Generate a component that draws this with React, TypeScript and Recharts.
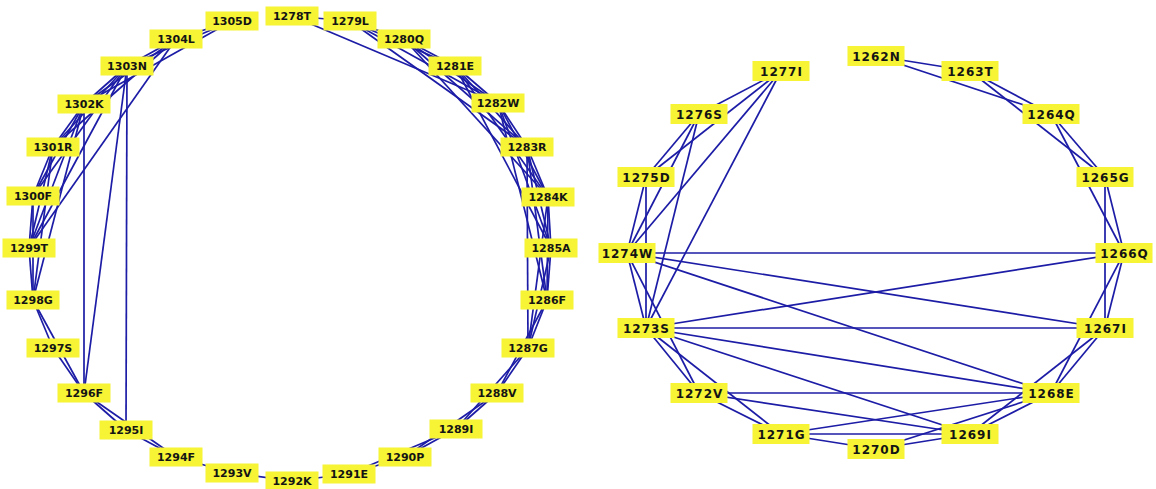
import { ScatterChart, Scatter, XAxis, YAxis } from "recharts";

// node positions (pixel-like layout units, y grows downward)
const leftNames = ["1278T", "1279L", "1280Q", "1281E", "1282W", "1283R", "1284K", "1285A", "1286F", "1287G", "1288V", "1289I", "1290P", "1291E", "1292K", "1293V", "1294F", "1295I", "1296F", "1297S", "1298G", "1299T", "1300F", "1301R", "1302K", "1303N", "1304L", "1305D"];
const leftX = [292, 350, 404, 455, 498, 527, 548, 551, 547, 528, 497, 456, 405, 349, 292, 232, 176, 126, 84, 53, 33, 29, 33, 53, 84, 127, 176, 232];
const leftY = [16, 21, 39, 66, 103, 147, 197, 248, 300, 348, 393, 429, 457, 474, 481, 473, 457, 430, 393, 348, 300, 248, 196, 147, 104, 66, 39, 21];

const rightNames = ["1262N", "1263T", "1264Q", "1265G", "1266Q", "1267I", "1268E", "1269I", "1270D", "1271G", "1272V", "1273S", "1274W", "1275D", "1276S", "1277I"];
const rightX = [876, 970, 1051, 1105, 1124, 1105, 1051, 970, 876, 781, 699, 646, 627, 646, 699, 781];
const rightY = [56, 71, 114, 177, 253, 328, 393, 434, 449, 434, 393, 328, 253, 177, 114, 71];

const leftEdges = [
  "1278T-1279L", "1278T-1282W", "1279L-1280Q", "1279L-1281E", "1279L-1282W", "1279L-1283R",
  "1280Q-1281E", "1280Q-1282W", "1280Q-1283R", "1280Q-1284K",
  "1281E-1282W", "1281E-1283R", "1281E-1284K", "1281E-1285A",
  "1282W-1283R", "1282W-1284K", "1282W-1285A", "1282W-1286F",
  "1283R-1284K", "1283R-1285A", "1283R-1286F", "1283R-1287G",
  "1284K-1285A", "1284K-1286F", "1284K-1287G", "1285A-1286F", "1285A-1287G",
  "1286F-1287G", "1286F-1288V", "1287G-1288V", "1287G-1289I",
  "1288V-1289I", "1288V-1290P", "1289I-1290P", "1289I-1291E", "1290P-1291E",
  "1291E-1292K", "1292K-1293V", "1293V-1294F", "1294F-1295I", "1294F-1296F", "1295I-1296F",
  "1296F-1297S", "1296F-1298G", "1297S-1298G", "1298G-1299T", "1298G-1300F", "1298G-1301R", "1298G-1302K",
  "1299T-1300F", "1299T-1301R", "1299T-1302K", "1300F-1301R", "1300F-1302K", "1300F-1303N",
  "1301R-1302K", "1301R-1303N", "1301R-1304L", "1302K-1303N", "1302K-1304L", "1302K-1305D",
  "1303N-1304L", "1303N-1305D", "1304L-1305D",
  "1302K-1296F", "1303N-1295I", "1303N-1296F", "1303N-1299T", "1304L-1299T",
];

const rightEdges = [
  "1262N-1263T", "1262N-1264Q", "1263T-1264Q", "1263T-1265G", "1264Q-1265G", "1264Q-1266Q",
  "1265G-1266Q", "1265G-1267I", "1266Q-1267I", "1266Q-1268E", "1267I-1268E", "1267I-1269I",
  "1268E-1269I", "1268E-1270D", "1268E-1271G", "1268E-1272V", "1268E-1273S", "1268E-1274W",
  "1269I-1270D", "1269I-1271G", "1269I-1272V", "1269I-1273S", "1270D-1271G",
  "1271G-1272V", "1271G-1273S", "1272V-1273S", "1272V-1274W",
  "1273S-1274W", "1273S-1275D", "1273S-1276S", "1273S-1277I", "1273S-1266Q", "1273S-1267I",
  "1274W-1266Q", "1274W-1267I", "1274W-1275D", "1274W-1276S", "1274W-1277I",
  "1275D-1276S", "1275D-1277I", "1276S-1277I",
];

const W = 1156;
const H = 489;
const EDGE = "#1c1ca6";
const BOX = "#f6f434";

type Node = { name: string; x: number; y: number; side: "left" | "right" };

const nodes: Node[] = [
  ...leftNames.map((name, i) => ({ name, x: leftX[i], y: leftY[i], side: "left" as const })),
  ...rightNames.map((name, i) => ({ name, x: rightX[i], y: rightY[i], side: "right" as const })),
];
const byName = new Map(nodes.map((n) => [n.name, n]));
const edges = [...leftEdges, ...rightEdges].map((e) => {
  const [a, b] = e.split("-");
  return [byName.get(a)!, byName.get(b)!];
});

const NodeBox = (props: any) => {
  const { cx, cy, payload } = props;
  const right = payload.side === "right";
  const w = right ? 57 : 53;
  const h = right ? 20 : 19;
  return (
    <g>
      <rect x={cx - w / 2} y={cy - h / 2} width={w} height={h} fill={BOX} />
      <text
        x={right ? cx + 0.5 : cx}
        y={cy + (right ? 4.5 : 4)}
        textAnchor="middle"
        fontFamily="DejaVu Sans, sans-serif"
        fontWeight="bold"
        fontSize={right ? 12 : 11}
        letterSpacing={right ? 1 : 0}
        fill="#141414"
      >
        {payload.name}
      </text>
    </g>
  );
};

export default function App() {
  return (
    <div style={{ position: "absolute", left: 0, top: 0, background: "#fff" }}>
      <ScatterChart width={W} height={H} margin={{ top: 0, right: 0, bottom: 0, left: 0 }}>
        <XAxis type="number" dataKey="x" domain={[0, W]} hide />
        <YAxis type="number" dataKey="y" domain={[0, H]} reversed hide />
        {edges.map(([a, b], i) => (
          <Scatter
            key={`e-${i}`}
            data={[a, b]}
            line={{ stroke: EDGE, strokeWidth: 1.7 }}
            shape={() => <g />}
            legendType="none"
            isAnimationActive={false}
          />
        ))}
        <Scatter data={nodes} shape={NodeBox} isAnimationActive={false} />
      </ScatterChart>
    </div>
  );
}
